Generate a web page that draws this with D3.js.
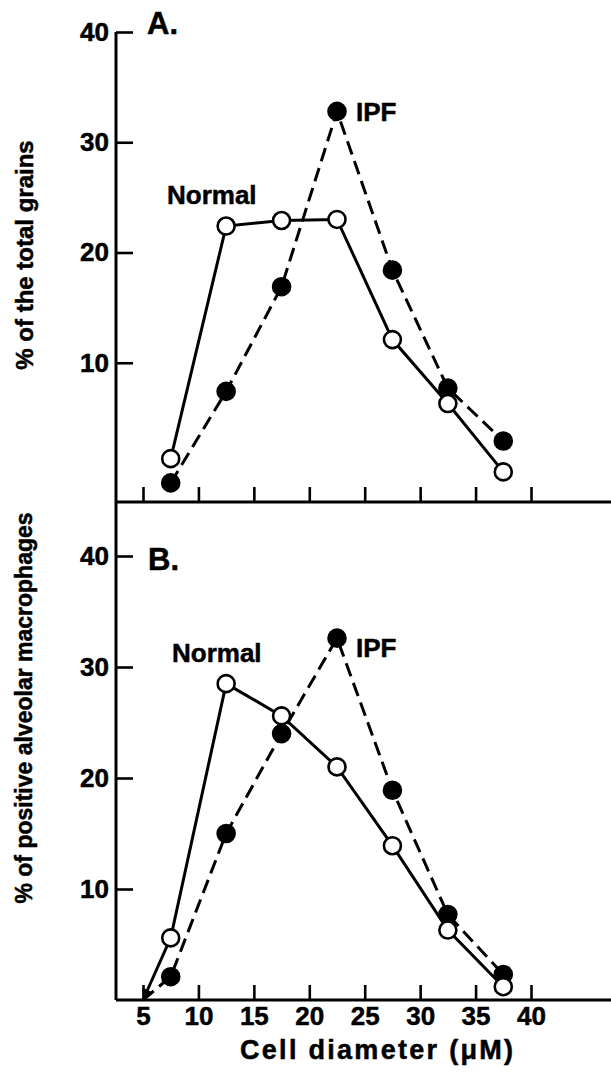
<!DOCTYPE html>
<html>
<head>
<meta charset="utf-8">
<script src="https://cdn.jsdelivr.net/npm/d3@7"></script>
<style>
  body { margin: 0; background: #fff; }
  text { font-family: "Liberation Sans", Arial, sans-serif; font-weight: bold; fill: #000; stroke: #000; stroke-width: 0.5px; }
</style>
</head>
<body>
<svg id="svg1" width="611" height="1091"></svg>
<script>
var diameters = [7.5, 12.5, 17.5, 22.5, 27.5, 32.5, 37.5];
// A. % of the total grains
var grainsNormal = [1.3, 22.4, 22.9, 23.0, 12.1, 6.3, 0.1];
var grainsIPF = [-0.9, 7.4, 16.9, 32.8, 18.4, 7.7, 2.9];
// B. % of positive alveolar macrophages
var macroNormal = [5.6, 28.5, 25.6, 21.0, 13.9, 6.3, 1.2];
var macroIPF = [2.1, 15.0, 24.0, 32.6, 18.9, 7.7, 2.3];
// panel B lines run down to the origin
var leadIn = [5, 0];
var xTicks = [5, 10, 15, 20, 25, 30, 35, 40];
var yTicks = [10, 20, 30, 40];

var svg = d3.select("#svg1");

var x = d3.scaleLinear().domain([5, 40]).range([143, 531]);
var yA = d3.scaleLinear().domain([0, 40]).range([473, 32]);
var yB = d3.scaleLinear().domain([0, 40]).range([1000, 556]);
var axisLeftX = 116, baseA = 502, baseB = 1000;

svg.append("defs").append("marker")
    .attr("id", "arrow")
    .attr("markerUnits", "userSpaceOnUse")
    .attr("viewBox", "0 0 10 10")
    .attr("refX", 10)
    .attr("refY", 5)
    .attr("markerWidth", 13)
    .attr("markerHeight", 11)
    .attr("orient", "auto-start-reverse")
    .append("path")
    .attr("d", "M0,0 L10,5 L0,10 z")
    .attr("fill", "#000");

// frame lines
svg.append("line")
    .attr("x1", axisLeftX).attr("x2", axisLeftX)
    .attr("y1", yA(40)).attr("y2", baseB)
    .attr("stroke", "#000").attr("stroke-width", 3);
[baseA, baseB].forEach(function (b) {
    svg.append("line")
        .attr("x1", axisLeftX).attr("x2", 611)
        .attr("y1", b).attr("y2", b)
        .attr("stroke", "#000").attr("stroke-width", 3);
});

function styleAxis(g) {
    g.select(".domain").remove();
    g.selectAll("line").attr("stroke", "#000").attr("stroke-width", 2.6);
    g.selectAll("text")
        .attr("font-family", "Liberation Sans, Arial, sans-serif")
        .attr("font-weight", "bold")
        .attr("font-size", 26)
        .attr("fill", "#000");
}

svg.append("g")
    .attr("transform", "translate(0," + baseA + ")")
    .call(d3.axisBottom(x).tickValues(xTicks).tickSize(-15).tickFormat(""))
    .call(styleAxis);

svg.append("g")
    .attr("transform", "translate(0," + baseB + ")")
    .call(d3.axisBottom(x).tickValues(xTicks).tickSize(-15).tickPadding(7))
    .call(styleAxis);

svg.append("g")
    .attr("transform", "translate(" + axisLeftX + ",0)")
    .call(d3.axisLeft(yA).tickValues(yTicks).tickSize(-17).tickPadding(7))
    .call(styleAxis);

svg.append("g")
    .attr("transform", "translate(" + axisLeftX + ",0)")
    .call(d3.axisLeft(yB).tickValues(yTicks).tickSize(-17).tickPadding(7))
    .call(styleAxis);

function drawSeries(y, values, dashed, filled, start) {
    var pts = d3.zip(diameters, values);
    var linePts = start ? [start].concat(pts) : pts;
    var line = d3.line()
        .x(function (d) { return x(d[0]); })
        .y(function (d) { return y(d[1]); });
    var path = svg.append("path")
        .datum(linePts)
        .attr("d", line)
        .attr("fill", "none")
        .attr("stroke", "#000")
        .attr("stroke-width", 3)
        .attr("stroke-dasharray", dashed ? "14,7" : null);
    if (start && !dashed) path.attr("marker-start", "url(#arrow)");
    svg.selectAll(null)
        .data(pts)
        .enter()
        .append("circle")
        .attr("cx", function (d) { return x(d[0]); })
        .attr("cy", function (d) { return y(d[1]); })
        .attr("r", 8.5)
        .attr("fill", filled ? "#000" : "#fff")
        .attr("stroke", "#000")
        .attr("stroke-width", 2.6);
}

drawSeries(yA, grainsIPF, true, true, null);
drawSeries(yA, grainsNormal, false, false, null);
drawSeries(yB, macroIPF, true, true, leadIn);
drawSeries(yB, macroNormal, false, false, leadIn);

// labels
svg.append("text").attr("x", 147).attr("y", 34).attr("font-size", 31).text("A.");
svg.append("text").attr("x", 148).attr("y", 570).attr("font-size", 31).text("B.");
svg.append("text").attr("x", 167).attr("y", 204).attr("font-size", 26).text("Normal");
svg.append("text").attr("x", 356).attr("y", 121).attr("font-size", 26).text("IPF");
svg.append("text").attr("x", 172).attr("y", 662).attr("font-size", 26).text("Normal");
svg.append("text").attr("x", 356).attr("y", 657).attr("font-size", 26).text("IPF");

svg.append("text")
    .attr("transform", "translate(33,255) rotate(-90)")
    .attr("text-anchor", "middle")
    .attr("font-size", 24)
    .text("% of the total grains");

svg.append("text")
    .attr("transform", "translate(32,708) rotate(-90)")
    .attr("text-anchor", "middle")
    .attr("font-size", 23)
    .text("% of positive alveolar macrophages");

svg.append("text")
    .attr("x", 240)
    .attr("y", 1059)
    .attr("font-size", 27)
    .attr("textLength", 273)
    .attr("lengthAdjust", "spacing")
    .text("Cell diameter (\u03bcM)");
</script>
</body>
</html>
